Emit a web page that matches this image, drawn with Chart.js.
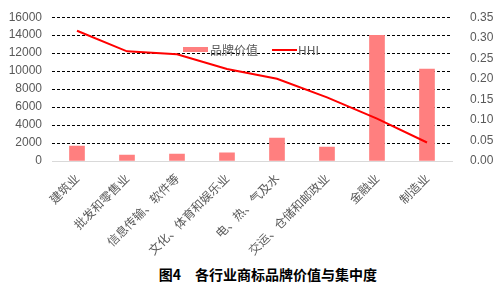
<!DOCTYPE html>
<html>
<head>
<meta charset="utf-8">
<script src="https://cdn.jsdelivr.net/npm/chart.js@4"></script>
<style>
  body { margin: 0; background: #fff; }
  #wrap { position: relative; width: 497px; height: 289px; }
  #box { position: absolute; left: 0; top: 0; width: 497px; height: 260px; }
  #legend { position: absolute; top: 41px; left: 183px; font: 12px "Noto Sans CJK SC", sans-serif; color: #595959; display: flex; align-items: center; }
  #legend .sw-bar { display: inline-block; width: 25px; height: 5px; background: #FF7F7F; margin-right: 2px; }
  #legend .sw-line { display: inline-block; width: 25px; height: 2px; background: #FF0000; margin: 0 1px 0 14px; }
  #title { position: absolute; top: 264px; left: 0; width: 536px; text-align: center; font: bold 14px "Noto Sans CJK SC", sans-serif; color: #000; }
</style>
</head>
<body>
<div id="wrap">
  <div id="box"><canvas id="chart"></canvas></div>
  <div id="legend"></div>
  <div id="title"></div>
</div>
<script>
"use strict"

// categories and values
const industries = ["建筑业", "批发和零售业", "信息传输、软件等", "文化、体育和娱乐业", "电、热、气及水", "交运、仓储和邮政业", "金融业", "制造业"];
const brandValue = [1650, 650, 760, 900, 2540, 1560, 13970, 10230];
const hhi = [0.317, 0.267, 0.260, 0.224, 0.200, 0.155, 0.103, 0.045];
const seriesNames = ["品牌价值", "HHI"];
const chartTitle = "图4　各行业商标品牌价值与集中度";

const grey = "#595959";

// legend + title as html
document.querySelector("#legend").innerHTML =
    `<span class="sw-bar"></span>${seriesNames[0]}<span class="sw-line"></span>${seriesNames[1]}`;
document.querySelector("#title").innerText = chartTitle;

let data = {
    labels: industries,
    datasets: [{
        type: "line",
        label: seriesNames[1],
        data: hhi,
        yAxisID: "y1",
        borderColor: "#FF0000",
        borderWidth: 2,
        pointRadius: 0,
        tension: 0,
        order: 0
    }, {
        type: "bar",
        label: seriesNames[0],
        data: brandValue,
        yAxisID: "y",
        backgroundColor: "#FF7F7F",
        barThickness: 15,
        order: 1
    }]
};

let config = {
    data: data,
    options: {
        responsive: true,
        maintainAspectRatio: false,
        animation: false,
        layout: { padding: { top: 8, left: 0, right: 0, bottom: 0 } },
        plugins: {
            legend: { display: false },
            tooltip: { enabled: false }
        },
        scales: {
            x: {
                grid: { display: false },
                border: { color: "#d9d9d9" },
                ticks: {
                    color: grey,
                    font: { family: "'Noto Sans CJK SC'", size: 12 },
                    minRotation: 45,
                    maxRotation: 45,
                    padding: 2
                },
                afterFit: s => { s.height = 99; }
            },
            y: {
                position: "left",
                min: 0,
                max: 16000,
                ticks: {
                    stepSize: 2000,
                    color: grey,
                    font: { family: "'Liberation Sans'", size: 12 },
                    padding: 10,
                    callback: v => String(v)
                },
                grid: { color: "#000", drawTicks: false, tickLength: 0 },
                border: { display: false, dash: [3, 2] },
                afterFit: s => { s.width = 52; }
            },
            y1: {
                position: "right",
                min: 0,
                max: 0.35,
                ticks: {
                    stepSize: 0.05,
                    color: grey,
                    font: { family: "'Liberation Sans'", size: 12 },
                    padding: 10,
                    callback: v => v.toFixed(2)
                },
                grid: { display: false },
                border: { display: false },
                afterFit: s => { s.width = 45; }
            }
        }
    }
};

let ctx = document.querySelector("#chart");
let comboChart = new Chart(ctx, config);
</script>
</body>
</html>
